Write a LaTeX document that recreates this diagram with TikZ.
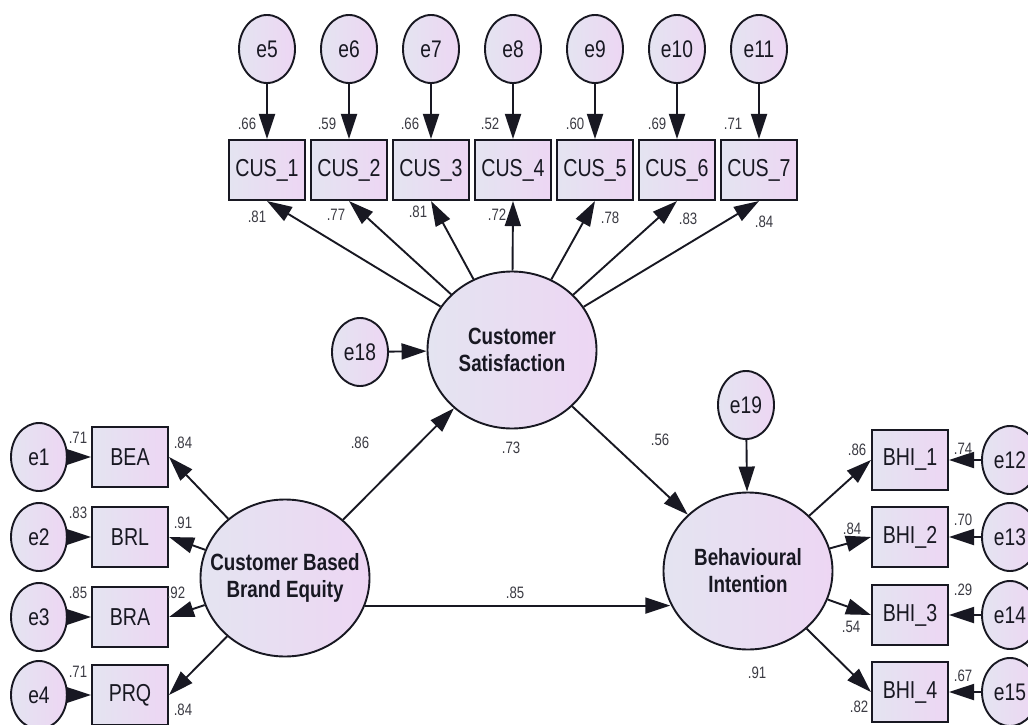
\documentclass[tikz,border=0pt]{standalone}
\usepackage{fontspec}
\setmainfont{Liberation Sans}[FakeStretch=0.8]
\usetikzlibrary{arrows.meta,shapes.geometric}
\definecolor{fillleft}{RGB}{228,228,241}
\definecolor{fillright}{RGB}{237,214,243}
\definecolor{ink}{RGB}{24,24,34}
\tikzset{
  errvar/.style={ellipse, draw=ink, line width=1.9pt, left color=fillleft, right color=fillright,
    minimum width=56pt, minimum height=68pt, inner sep=0pt, text=ink, font=\fontsize{24}{26}\selectfont},
  latent/.style={ellipse, draw=ink, line width=1.9pt, left color=fillleft, right color=fillright,
    minimum width=169pt, minimum height=157pt, inner sep=-25pt, align=center, text=ink,
    font=\bfseries\fontsize{23.5}{27}\selectfont},
  observed/.style={rectangle, draw=ink, line width=2.1pt, left color=fillleft, right color=fillright,
    minimum width=76pt, minimum height=60pt, inner sep=0pt, text=ink, font=\fontsize{24.5}{26}\selectfont},
  coef/.style={inner sep=0pt, text=ink!85, font=\fontsize{16.5}{18}\selectfont},
  path/.style={draw=ink, line width=1.9pt, -{Triangle[length=25pt,width=16pt]}}
}
\begin{document}
\begin{tikzpicture}[x=1pt,y=-1pt]
\clip (0,0) rectangle (1028,725);
\fill[white] (0,0) rectangle (1028,725);
\node[latent] (cs) at (512,350) {Customer\\Satisfaction};
\node[latent] (cbbe) at (285,578) {Customer Based\\Brand Equity};
\node[latent] (bi) at (748,571) {Behavioural\\Intention};
\node[errvar] (e18) at (360,352) {e18};
\node[errvar] (e19) at (746,405) {e19};
\foreach \i [evaluate=\i as \x using 267+82*(\i-1), evaluate=\i as \e using int(\i+4)] in {1,...,7} {
  \node[errvar] (e\e) at (\x,49) {e\e};
  \node[observed] (cus\i) at (\x,170) {CUS\_\i};
  \draw[path] (e\e) -- (cus\i);
  \draw[path] (cs) -- (cus\i.south);
}
\foreach \n/\y [count=\i] in {BEA/457,BRL/537,BRA/617,PRQ/695} {
  \node[observed] (\n) at (130,\y) {\n};
  \node[errvar] (e\i) at (39,\y) {e\i};
  \draw[path] (e\i) -- (\n);
  \draw[path] (cbbe) -- (\n.east);
}
\foreach \y [count=\i, evaluate=\i as \e using int(\i+11)] in {460,537,615,692} {
  \node[observed] (bhi\i) at (910,\y) {BHI\_\i};
  \node[errvar] (e\e) at (1010,\y) {e\e};
  \draw[path] (e\e) -- (bhi\i);
  \draw[path] (bi) -- (bhi\i.west);
}
\draw[path] (e18) -- (cs);
\draw[path] (e19) -- (bi);
\draw[path] (cbbe) -- (cs);
\draw[path] (cs) -- (bi);
\draw[path] (cbbe.-19) -- (cbbe.-19 -| bi.203);
\foreach \x/\v [count=\i] in {247/.66,327/.59,410/.66,490/.52,575/.60,657/.69,733/.71}
  \node[coef] (rt\i) at (\x,124) {\v};
\foreach \x/\y/\v [count=\i] in {257/217/.81,336/215/.77,418/212/.81,497/215/.72,610/218/.78,688/219/.83,764/222/.84}
  \node[coef] (lt\i) at (\x,\y) {\v};
\foreach \y/\v [count=\i] in {438/.71,513/.83,593/.85,672/.71}
  \node[coef] (rl\i) at (78,\y) {\v};
\foreach \x/\y/\v [count=\i] in {183/443/.84,183/523/.91,176/593/.92,183/710/.84}
  \node[coef] (ll\i) at (\x,\y) {\v};
\foreach \x/\y/\v [count=\i] in {857/450/.86,852/529/.84,851/627/.54,859/707/.82}
  \node[coef] (lr\i) at (\x,\y) {\v};
\foreach \y/\v [count=\i] in {449/.74,520/.70,590/.29,676/.67}
  \node[coef] (rr\i) at (963,\y) {\v};
\node[coef] (p1) at (360,443) {.86};
\node[coef] (p2) at (511,448) {.73};
\node[coef] (p3) at (660,440) {.56};
\node[coef] (p4) at (515,593) {.85};
\node[coef] (p5) at (757,673) {.91};
\end{tikzpicture}
\end{document}
